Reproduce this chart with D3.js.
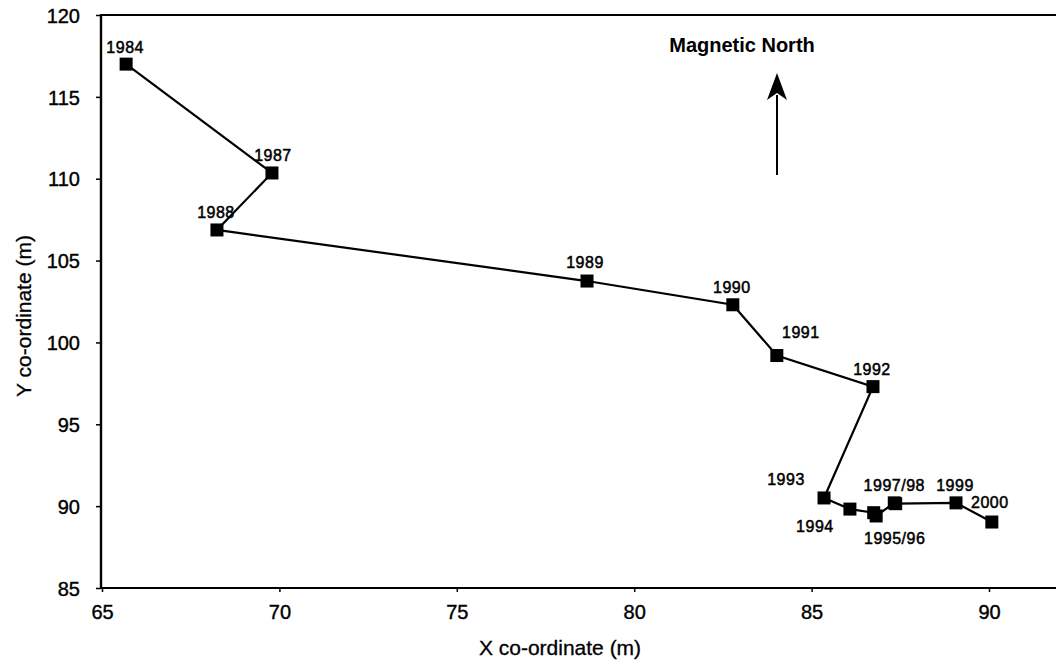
<!DOCTYPE html>
<html>
<head>
<meta charset="utf-8">
<script src="https://cdn.jsdelivr.net/npm/d3@7"></script>
<style>
  body { margin: 0; background: #fff; }
  svg { font-family: "Liberation Sans", Arial, sans-serif; }
</style>
</head>
<body>
<script>
// survey positions of the marker, year by year
var years = ["1984", "1987", "1988", "1989", "1990", "1991", "1992", "1993", "1994", "1995", "1996", "1997", "1998", "1999", "2000"];
var xValues = [65.68, 69.79, 68.24, 78.67, 82.78, 84.02, 86.73, 85.35, 86.08, 86.75, 86.82, 87.33, 87.37, 89.07, 90.08];
var yValues = [117.0, 110.35, 106.87, 103.75, 102.3, 99.2, 97.3, 90.5, 89.82, 89.6, 89.4, 90.2, 90.15, 90.2, 89.03];

var xTicks = [65, 70, 75, 80, 85, 90];
var yTicks = [85, 90, 95, 100, 105, 110, 115, 120];

// labels: text and the point they belong to
var labelText = ["1984", "1987", "1988", "1989", "1990", "1991", "1992", "1993", "1994", "1995/96", "1997/98", "1999", "2000"];
var labelPoint = [0, 1, 2, 3, 4, 5, 6, 7, 8, 9, 11, 13, 14];
// offsets in pixels from the point
var labelOffset = [[-1, -11], [1, -12], [-1, -12], [-2, -13], [-1, -12], [24, -18], [-1, -12], [-38, -13], [-35, 23], [21, 31], [0, -12], [-1, -12], [-2, -14]];

var width = 1056, height = 662;
var svg = d3.select("body").append("svg").attr("width", width).attr("height", height);

var x = d3.scaleLinear().domain([65, 90]).range([102, 989]);
var y = d3.scaleLinear().domain([85, 120]).range([588, 15]);

// frame lines
svg.append("line").attr("x1", 101).attr("x2", width).attr("y1", y(120)).attr("y2", y(120))
    .attr("stroke", "#000").attr("stroke-width", 2.2);
svg.append("line").attr("x1", 101).attr("x2", width).attr("y1", y(85)).attr("y2", y(85))
    .attr("stroke", "#000").attr("stroke-width", 2.2);
svg.append("line").attr("x1", 101).attr("x2", 101).attr("y1", y(120) - 1).attr("y2", y(85) + 1)
    .attr("stroke", "#000").attr("stroke-width", 2.4);

var xAxis = svg.append("g").attr("transform", "translate(0," + y(85) + ")")
    .call(d3.axisBottom(x).tickValues(xTicks).tickSize(4).tickPadding(13).tickSizeOuter(0));
xAxis.select(".domain").remove();
xAxis.selectAll("text").attr("font-size", 20).attr("fill", "#000")
    .attr("stroke", "#000").attr("stroke-width", 0.4);
xAxis.selectAll("line").attr("stroke-width", 1.5);

var yAxis = svg.append("g").attr("transform", "translate(101,0)")
    .call(d3.axisLeft(y).tickValues(yTicks).tickSize(5).tickPadding(16).tickSizeOuter(0));
yAxis.select(".domain").remove();
yAxis.selectAll("text").attr("font-size", 20).attr("fill", "#000").attr("dy", "0.36em")
    .attr("stroke", "#000").attr("stroke-width", 0.4);
yAxis.selectAll("line").attr("stroke-width", 1.5);

// axis titles
svg.append("text").attr("x", 560).attr("y", 655).attr("text-anchor", "middle")
    .attr("font-size", 21).attr("stroke", "#000").attr("stroke-width", 0.3).text("X co-ordinate (m)");
svg.append("text").attr("transform", "translate(31,316) rotate(-90)").attr("text-anchor", "middle")
    .attr("font-size", 21).attr("stroke", "#000").attr("stroke-width", 0.3).text("Y co-ordinate (m)");

// the path
var pts = years.map(function (d, i) { return [xValues[i], yValues[i]]; });
svg.append("path").datum(pts)
    .attr("d", d3.line().x(function (d) { return x(d[0]); }).y(function (d) { return y(d[1]); }))
    .attr("fill", "none").attr("stroke", "#000").attr("stroke-width", 2.2);

var s = 13;
svg.selectAll("rect.pt").data(pts).enter().append("rect").attr("class", "pt")
    .attr("x", function (d) { return x(d[0]) - s / 2; })
    .attr("y", function (d) { return y(d[1]) - s / 2; })
    .attr("width", s).attr("height", s).attr("fill", "#000");

svg.selectAll("text.lbl").data(labelText).enter().append("text").attr("class", "lbl")
    .attr("x", function (d, i) { return x(xValues[labelPoint[i]]) + labelOffset[i][0]; })
    .attr("y", function (d, i) { return y(yValues[labelPoint[i]]) + labelOffset[i][1]; })
    .attr("text-anchor", "middle").attr("font-size", 16).attr("letter-spacing", 0.5)
    .attr("stroke", "#000").attr("stroke-width", 0.5)
    .text(function (d) { return d; });

// north arrow
svg.append("text").attr("x", 742).attr("y", 52).attr("text-anchor", "middle")
    .attr("font-size", 20).attr("font-weight", "bold").text("Magnetic North");
svg.append("line").attr("x1", 777).attr("x2", 777).attr("y1", 95).attr("y2", 175)
    .attr("stroke", "#000").attr("stroke-width", 2);
svg.append("path").attr("d", "M777,73 L767,100 L777,93 L787,100 Z").attr("fill", "#000");
</script>
</body>
</html>
